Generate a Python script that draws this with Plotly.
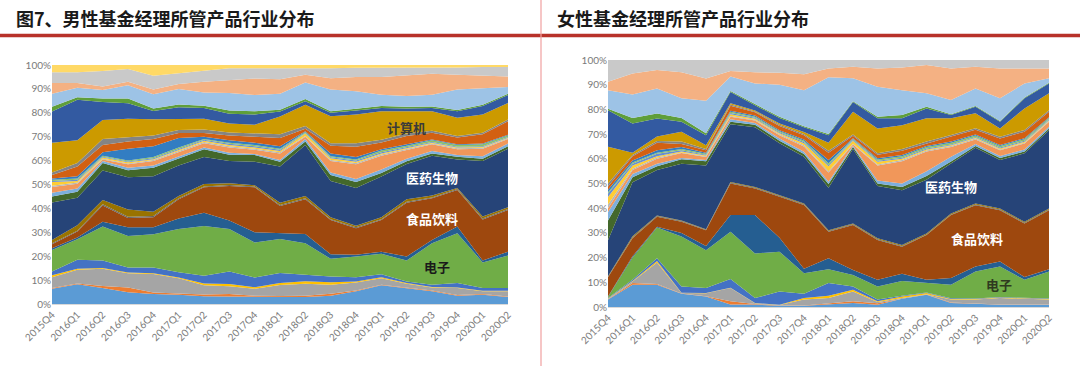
import plotly.graph_objects as go

quarters = ["2015Q4", "2016Q1", "2016Q2", "2016Q3", "2016Q4", "2017Q1", "2017Q2", "2017Q3",
            "2017Q4", "2018Q1", "2018Q2", "2018Q3", "2018Q4", "2019Q1", "2019Q2", "2019Q3",
            "2019Q4", "2020Q1", "2020Q2"]

industries = ["农林牧渔", "采掘", "化工", "钢铁", "有色金属", "电子", "家用电器", "食品饮料",
              "纺织服装", "轻工制造", "医药生物", "公用事业", "交通运输", "房地产", "商业贸易",
              "休闲服务", "综合", "建筑材料", "建筑装饰", "电气设备", "国防军工", "计算机",
              "传媒", "通信", "银行", "非银金融", "汽车", "机械设备"]

colors = ["#5B9BD5", "#ED7D31", "#A5A5A5", "#FFC000", "#4472C4", "#70AD47", "#255E91", "#9E480E",
          "#636363", "#997300", "#264478", "#43682B", "#7CAFDD", "#F1975A", "#B7B7B7", "#FFCD33",
          "#698ED0", "#8CC168", "#327DC2", "#D26012", "#848484", "#CC9A00", "#335AA1", "#5F9E3A",
          "#9DC3E6", "#F4B183", "#C9C9C9", "#FFD966"]

# ---- male fund managers: industry share (%) per quarter ----
male_agri = [6.4, 8.3, 6.7, 4.9, 4.2, 3.9, 3.2, 3.2, 3.0, 3.0, 2.9, 3.5, 5.3, 7.8, 6.7, 5.3, 3.5, 3.9, 2.9]
male_mining = [0.3, 0.3, 0.8, 2.0, 0.6, 0.5, 0.8, 1.0, 0.5, 0.3, 0.5, 0.8, 0.3, 0.3, 0.3, 0.3, 0.3, 0.3, 0.2]
male_chem = [4.5, 5.7, 7.2, 6.0, 7.8, 6.4, 3.8, 3.2, 2.9, 4.7, 5.1, 3.8, 3.4, 2.7, 1.5, 1.3, 2.9, 1.1, 2.2]
male_steel = [0.8, 0.5, 0.4, 0.3, 0.3, 0.3, 0.8, 1.0, 0.6, 0.8, 1.0, 1.0, 0.4, 0.4, 0.3, 0.2, 0.2, 0.2, 0.2]
male_metals = [1.6, 3.7, 3.1, 2.1, 2.4, 2.2, 3.2, 5.2, 4.1, 4.2, 2.7, 2.4, 1.8, 1.3, 0.6, 1.0, 1.9, 1.2, 1.2]
male_elec = [9.0, 8.6, 14.2, 13.2, 13.9, 18.1, 20.8, 17.8, 14.6, 14.2, 13.2, 7.4, 8.7, 8.5, 8.8, 17.3, 20.8, 10.7, 13.6]
male_appliance = [0.7, 0.7, 2.0, 3.6, 2.9, 4.4, 5.6, 3.5, 4.3, 2.6, 3.9, 1.9, 0.7, 0.9, 1.7, 1.4, 2.8, 0.8, 1.6]
male_food = [1.7, 2.5, 6.8, 3.9, 4.2, 8.0, 10.6, 14.5, 18.8, 11.2, 14.5, 14.3, 11.1, 13.2, 22.5, 17.4, 15.3, 17.2, 17.4]
male_textile = [0.4, 0.4, 0.5, 0.5, 0.5, 0.4, 0.4, 0.4, 0.4, 0.4, 0.4, 0.4, 0.4, 0.4, 0.4, 0.4, 0.4, 0.4, 0.4]
male_lightmfg = [1.4, 2.3, 1.8, 3.0, 1.8, 1.0, 1.0, 0.7, 0.5, 1.0, 1.0, 0.8, 0.6, 0.8, 1.0, 0.8, 0.4, 0.8, 0.8]
male_pharma = [15.7, 11.5, 12.4, 13.5, 14.9, 12.8, 11.3, 9.3, 9.8, 15.1, 21.3, 15.2, 15.8, 17.0, 14.8, 16.6, 12.0, 23.2, 24.5]
male_utility = [2.5, 2.5, 3.1, 3.0, 3.5, 3.0, 3.3, 2.7, 2.8, 2.0, 1.5, 2.5, 2.5, 1.5, 1.1, 1.0, 1.1, 1.0, 1.0]
male_transport = [1.5, 1.3, 0.8, 1.0, 1.0, 0.7, 0.7, 0.8, 0.5, 0.8, 1.0, 1.0, 1.3, 1.5, 1.1, 1.0, 0.7, 1.0, 1.2]
male_realestate = [2.5, 2.0, 0.7, 1.5, 1.8, 1.8, 1.8, 2.2, 1.7, 2.7, 1.0, 4.8, 6.2, 5.7, 3.7, 2.8, 2.5, 3.2, 1.8]
male_commerce = [0.5, 0.5, 0.3, 0.3, 0.4, 0.5, 0.5, 0.5, 0.5, 0.5, 0.3, 0.4, 0.5, 0.5, 0.5, 0.4, 0.4, 0.4, 0.3]
male_leisure = [1.5, 0.7, 0.5, 0.5, 0.4, 0.5, 0.5, 0.5, 0.5, 0.5, 1.0, 0.8, 0.5, 0.5, 0.3, 0.3, 0.3, 0.3, 0.3]
male_conglom = [0.5, 0.5, 0.3, 0.3, 0.4, 0.5, 0.4, 0.5, 0.5, 0.5, 0.3, 0.4, 0.5, 0.5, 0.3, 0.3, 0.3, 0.3, 0.3]
male_bldmat = [0.5, 0.5, 0.4, 0.4, 0.5, 0.5, 0.3, 0.5, 0.5, 0.5, 0.4, 0.4, 0.5, 0.7, 0.6, 0.7, 0.7, 0.8, 0.6]
male_construct = [0.5, 1.0, 1.5, 5.0, 4.5, 4.0, 1.0, 1.0, 1.0, 1.0, 0.3, 1.2, 1.0, 0.6, 0.6, 0.3, 0.3, 0.4, 0.3]
male_elecequip = [1.5, 4.0, 3.0, 3.0, 3.0, 2.0, 1.5, 2.0, 2.5, 3.5, 1.0, 3.2, 4.3, 2.8, 3.5, 2.9, 2.9, 3.8, 5.7]
male_defense = [1.0, 1.5, 2.5, 1.8, 1.5, 1.3, 1.5, 1.3, 1.5, 1.5, 1.2, 1.1, 1.5, 1.1, 1.0, 0.8, 0.6, 0.7, 0.7]
male_computer = [12.5, 9.5, 8.0, 7.7, 6.8, 4.7, 4.5, 3.7, 3.5, 7.5, 8.9, 11.3, 12.0, 12.0, 9.5, 8.2, 7.6, 7.6, 6.9]
male_media = [13.0, 17.0, 7.5, 6.5, 3.5, 4.8, 4.5, 4.1, 4.3, 2.0, 1.4, 1.4, 1.7, 1.3, 1.0, 1.3, 2.8, 3.5, 3.3]
male_telecom = [2.0, 1.0, 1.5, 2.0, 1.0, 1.2, 1.0, 1.4, 1.4, 0.8, 1.0, 0.7, 0.7, 0.8, 0.7, 0.6, 0.5, 0.6, 0.6]
male_bank = [5.5, 4.0, 3.5, 5.5, 6.0, 6.5, 5.5, 7.3, 6.8, 6.7, 6.9, 9.0, 7.3, 4.8, 4.5, 5.0, 8.5, 6.9, 2.8]
male_nonbank = [4.5, 2.0, 1.5, 1.5, 2.0, 2.0, 4.5, 5.5, 6.8, 6.0, 3.2, 4.8, 6.0, 7.4, 8.8, 8.7, 6.2, 5.1, 4.4]
male_auto = [4.5, 4.5, 6.5, 5.3, 5.7, 4.5, 4.8, 4.8, 4.3, 4.5, 2.7, 4.1, 3.8, 3.8, 3.2, 2.4, 3.1, 3.8, 4.0]
male_machinery = [3.0, 3.0, 2.5, 1.7, 4.5, 3.5, 2.2, 1.4, 1.4, 1.5, 1.4, 1.4, 1.2, 1.2, 1.0, 1.3, 1.0, 0.8, 0.8]

# ---- female fund managers: industry share (%) per quarter ----
female_agri = [3.0, 9.0, 9.0, 5.4, 4.3, 1.0, 1.0, 0.5, 0.5, 0.9, 1.6, 0.9, 3.3, 5.0, 1.6, 1.3, 0.9, 0.9, 0.9]
female_mining = [0.1, 0.7, 0.3, 0.1, 0.1, 1.3, 0.2, 0.1, 0.1, 0.7, 0.7, 0.6, 0.1, 0.1, 0.2, 0.1, 0.1, 0.1, 0.1]
female_chem = [0.2, 0.6, 8.7, 0.2, 1.2, 5.4, 0.3, 0.2, 2.4, 2.0, 4.0, 0.5, 0.2, 0.1, 1.2, 1.6, 2.6, 2.2, 2.0]
female_steel = [0.1, 0.2, 0.6, 0.1, 0.1, 0.1, 0.1, 0.1, 0.6, 1.0, 0.7, 0.3, 0.7, 0.5, 0.2, 0.2, 0.2, 0.2, 0.2]
female_metals = [0.2, 0.5, 1.1, 2.5, 2.0, 3.5, 2.0, 5.4, 1.8, 5.1, 1.3, 0.7, 0.3, 0.2, 0.3, 0.2, 0.2, 0.2, 0.2]
female_elec = [0.4, 9.0, 12.5, 20.2, 15.3, 19.2, 18.1, 16.1, 8.3, 5.6, 4.7, 5.3, 5.9, 3.8, 5.5, 11.0, 12.4, 7.4, 11.0]
female_appliance = [0.3, 0.5, 0.3, 1.5, 1.7, 6.7, 15.5, 5.6, 1.8, 4.4, 2.0, 2.7, 3.0, 1.3, 2.7, 2.0, 2.0, 1.1, 0.9]
female_food = [7.7, 7.3, 4.0, 4.5, 6.4, 12.8, 10.8, 16.7, 25.8, 10.8, 18.2, 16.1, 10.9, 18.1, 25.5, 24.8, 20.8, 21.7, 23.9]
female_textile = [0.2, 0.3, 0.3, 0.3, 0.2, 0.3, 0.3, 0.3, 0.3, 0.3, 0.3, 0.3, 0.3, 0.3, 0.3, 0.3, 0.3, 0.3, 0.3]
female_lightmfg = [0.3, 0.5, 0.2, 0.2, 0.2, 0.3, 0.3, 0.3, 0.3, 0.3, 0.3, 0.4, 0.4, 0.4, 0.4, 0.4, 0.4, 0.4, 0.4]
female_pharma = [14.5, 21.9, 18.5, 23.0, 25.8, 23.4, 24.2, 21.0, 18.9, 17.2, 30.2, 21.2, 22.2, 21.7, 20.2, 22.6, 19.6, 27.7, 31.7]
female_utility = [8.0, 2.0, 1.5, 1.8, 1.7, 1.0, 1.0, 1.0, 1.1, 1.5, 0.8, 1.0, 1.3, 1.5, 0.8, 0.7, 0.8, 0.8, 0.7]
female_transport = [3.5, 1.3, 1.0, 0.5, 0.5, 1.0, 0.7, 0.9, 1.0, 0.9, 0.5, 1.2, 1.4, 2.0, 1.9, 0.8, 0.8, 0.8, 0.7]
female_realestate = [1.5, 1.7, 2.0, 2.0, 1.2, 1.0, 1.0, 1.3, 2.1, 3.8, 0.5, 6.1, 9.0, 8.0, 4.0, 1.8, 2.4, 2.4, 2.0]
female_commerce = [1.5, 0.5, 0.5, 0.3, 0.3, 0.3, 0.3, 0.4, 0.5, 0.5, 0.3, 0.4, 0.5, 0.4, 0.4, 0.4, 0.3, 0.3, 0.3]
female_leisure = [3.0, 1.3, 0.5, 0.4, 0.3, 0.7, 0.4, 0.4, 0.8, 2.0, 1.2, 1.1, 0.5, 0.4, 0.3, 0.3, 0.4, 0.4, 0.3]
female_conglom = [1.5, 0.7, 1.0, 0.5, 0.3, 0.5, 0.4, 0.4, 0.5, 0.5, 0.4, 0.4, 0.4, 0.4, 0.3, 0.3, 0.4, 0.4, 0.4]
female_bldmat = [0.5, 0.5, 0.5, 0.5, 0.4, 0.5, 0.4, 0.5, 0.5, 0.7, 0.3, 0.5, 0.6, 0.6, 0.7, 0.6, 0.6, 0.6, 0.5]
female_construct = [1.0, 0.8, 1.0, 0.8, 0.5, 0.5, 0.5, 0.4, 0.5, 1.3, 0.3, 0.5, 0.5, 0.4, 0.5, 0.4, 0.4, 0.4, 0.3]
female_elecequip = [1.3, 1.7, 3.0, 1.2, 1.0, 2.0, 1.3, 1.7, 1.7, 3.0, 1.0, 1.4, 1.8, 1.1, 2.0, 2.0, 2.6, 2.7, 2.2]
female_defense = [1.2, 0.5, 0.7, 1.0, 0.5, 0.5, 0.4, 0.5, 0.5, 0.8, 0.5, 0.6, 0.7, 0.7, 0.6, 0.6, 0.7, 0.7, 0.7]
female_computer = [14.9, 1.0, 1.8, 4.0, 1.5, 0.5, 0.4, 0.5, 0.8, 3.2, 9.2, 10.1, 9.6, 9.4, 6.8, 6.0, 3.4, 8.7, 6.8]
female_media = [14.8, 11.8, 7.3, 4.0, 4.0, 4.5, 2.1, 2.2, 2.0, 3.0, 4.0, 4.1, 2.8, 4.0, 1.3, 2.7, 2.7, 4.1, 4.0]
female_telecom = [0.6, 2.2, 2.0, 1.5, 0.8, 0.5, 0.5, 0.5, 0.4, 0.5, 0.3, 0.6, 1.3, 0.7, 0.3, 0.3, 0.3, 0.3, 0.3]
female_bank = [7.5, 9.5, 10.2, 8.0, 13.2, 5.8, 8.3, 13.0, 14.6, 23.0, 9.3, 12.2, 10.1, 5.4, 5.8, 7.1, 9.2, 5.7, 1.8]
female_nonbank = [3.4, 8.5, 7.5, 10.5, 9.0, 2.2, 4.5, 4.8, 6.4, 3.6, 4.7, 7.4, 9.2, 11.5, 12.8, 8.8, 12.1, 6.1, 4.0]
female_auto = [8.8, 5.5, 4.0, 5.0, 7.5, 4.5, 5.0, 5.2, 5.8, 3.4, 2.7, 3.4, 3.0, 2.0, 3.4, 2.7, 3.4, 3.4, 3.4]
female_machinery = [0, 0, 0, 0, 0, 0, 0, 0, 0, 0, 0, 0, 0, 0, 0, 0, 0, 0, 0]

male_series = [male_agri, male_mining, male_chem, male_steel, male_metals, male_elec, male_appliance,
               male_food, male_textile, male_lightmfg, male_pharma, male_utility, male_transport,
               male_realestate, male_commerce, male_leisure, male_conglom, male_bldmat, male_construct,
               male_elecequip, male_defense, male_computer, male_media, male_telecom, male_bank,
               male_nonbank, male_auto, male_machinery]
female_series = [female_agri, female_mining, female_chem, female_steel, female_metals, female_elec,
                 female_appliance, female_food, female_textile, female_lightmfg, female_pharma,
                 female_utility, female_transport, female_realestate, female_commerce, female_leisure,
                 female_conglom, female_bldmat, female_construct, female_elecequip, female_defense,
                 female_computer, female_media, female_telecom, female_bank, female_nonbank,
                 female_auto, female_machinery]

W, H = 1080, 366
fig = go.Figure()

for name, vals, col in zip(industries, male_series, colors):
    fig.add_trace(go.Scatter(x=quarters, y=vals, name=name, mode="lines", stackgroup="m",
                             groupnorm="percent", line=dict(width=0, color=col), fillcolor=col,
                             xaxis="x", yaxis="y", showlegend=False))
for name, vals, col in zip(industries, female_series, colors):
    fig.add_trace(go.Scatter(x=quarters, y=vals, name=name, mode="lines", stackgroup="f",
                             groupnorm="percent", line=dict(width=0, color=col), fillcolor=col,
                             xaxis="x2", yaxis="y2", showlegend=False))

tickfont = dict(family="Lato, Liberation Sans, sans-serif", size=10, color="#7a7a7a")
xcommon = dict(type="category", tickangle=-45, tickfont=tickfont, showgrid=False,
               showline=True, linecolor="#d9d9d9", linewidth=1, ticks="", zeroline=False,
               range=[0, 18], fixedrange=True, automargin=False)
ycommon = dict(range=[0, 100], dtick=10, ticksuffix="%", tickfont=tickfont, showgrid=False,
               zeroline=False, showline=False, ticks="", fixedrange=True, automargin=False)

fig.update_layout(
    width=W, height=H, margin=dict(l=0, r=0, t=0, b=0, autoexpand=False),
    paper_bgcolor="white", plot_bgcolor="white",
    xaxis=dict(domain=[52 / W, 508 / W], anchor="y", **xcommon),
    yaxis=dict(domain=[1 - 304 / H, 1 - 65 / H], anchor="x", **ycommon),
    xaxis2=dict(domain=[608 / W, 1049 / W], anchor="y2", **xcommon),
    yaxis2=dict(domain=[1 - 307 / H, 1 - 60 / H], anchor="x2", **ycommon),
)

title_font = dict(family="Noto Sans CJK SC", size=18, color="#1a1a1a")
fig.add_annotation(text="<b>图7、男性基金经理所管产品行业分布</b>", xref="paper", yref="paper",
                   x=14 / W, y=1 - 18 / H, xanchor="left", yanchor="middle", showarrow=False,
                   font=title_font)
fig.add_annotation(text="<b>女性基金经理所管产品行业分布</b>", xref="paper", yref="paper",
                   x=555 / W, y=1 - 18 / H, xanchor="left", yanchor="middle", showarrow=False,
                   font=title_font)

# header rules and separator
fig.add_shape(type="line", xref="paper", yref="paper", x0=0, x1=1, y0=1 - 35.5 / H, y1=1 - 35.5 / H,
              line=dict(color="#B8322A", width=3.5))
fig.add_shape(type="line", xref="paper", yref="paper", x0=541 / W, x1=541 / W, y0=0, y1=1,
              line=dict(color="#F0A0A0", width=1.2))

lab = dict(family="Noto Sans CJK SC", size=13)
labels = [
    ("x", "y", 14.0, 74, "计算机", "#3a3a3a"),
    ("x", "y", 15.0, 53, "医药生物", "white"),
    ("x", "y", 15.0, 35.6, "食品饮料", "white"),
    ("x", "y", 15.2, 15.9, "电子", "#1a1a1a"),
    ("x2", "y2", 14.0, 48.6, "医药生物", "white"),
    ("x2", "y2", 15.06, 27.9, "食品饮料", "white"),
    ("x2", "y2", 15.96, 9.3, "电子", "#2f3a1f"),
]
for xr, yr, xv, yv, t, c in labels:
    fig.add_annotation(text="<b>" + t + "</b>", xref=xr, yref=yr, x=xv, y=yv, showarrow=False,
                       font=dict(color=c, **lab))

fig.write_html("out.html", config={"displayModeBar": False},
               post_script="document.body.style.margin='0';document.body.style.overflow='hidden';")
